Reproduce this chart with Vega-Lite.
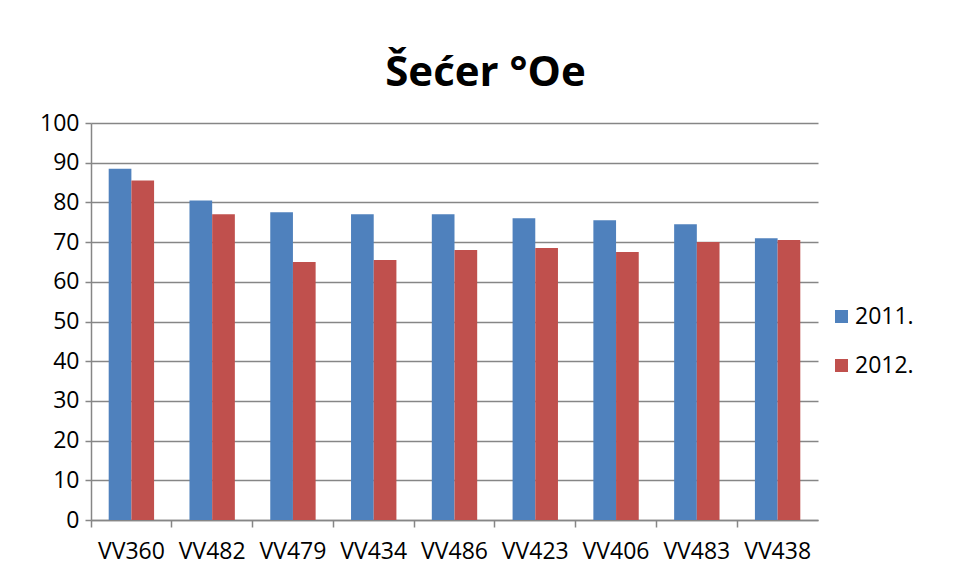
{
  "$schema": "https://vega.github.io/schema/vega-lite/v6.json",
  "width": 727,
  "height": 397,
  "autosize": {"type": "none"},
  "padding": {"left": 91, "top": 123, "right": 139, "bottom": 59},
  "background": "white",
  "config": {
    "font": "Open Sans",
    "view": {"stroke": null}
  },
  "title": {
    "text": "Šećer °Oe",
    "font": "Open Sans",
    "fontSize": 42,
    "fontWeight": "bold",
    "color": "black",
    "baseline": "alphabetic",
    "offset": 37,
    "dx": 31,
    "dy": 53,
    "anchor": "middle"
  },
  "data": {
    "values": [
      {"cat": "VV360", "year": "2011.", "value": 88.5},
      {"cat": "VV360", "year": "2012.", "value": 85.5},
      {"cat": "VV482", "year": "2011.", "value": 80.5},
      {"cat": "VV482", "year": "2012.", "value": 77},
      {"cat": "VV479", "year": "2011.", "value": 77.5},
      {"cat": "VV479", "year": "2012.", "value": 65},
      {"cat": "VV434", "year": "2011.", "value": 77},
      {"cat": "VV434", "year": "2012.", "value": 65.5},
      {"cat": "VV486", "year": "2011.", "value": 77},
      {"cat": "VV486", "year": "2012.", "value": 68},
      {"cat": "VV423", "year": "2011.", "value": 76},
      {"cat": "VV423", "year": "2012.", "value": 68.5},
      {"cat": "VV406", "year": "2011.", "value": 75.5},
      {"cat": "VV406", "year": "2012.", "value": 67.5},
      {"cat": "VV483", "year": "2011.", "value": 74.5},
      {"cat": "VV483", "year": "2012.", "value": 70},
      {"cat": "VV438", "year": "2011.", "value": 71},
      {"cat": "VV438", "year": "2012.", "value": 70.5}
    ]
  },
  "mark": {"type": "bar"},
  "encoding": {
    "x": {
      "field": "cat",
      "type": "nominal",
      "sort": null,
      "scale": {"paddingInner": 0, "paddingOuter": 0},
      "axis": {
        "title": null,
        "labelAngle": 0,
        "labelFontSize": 23,
        "labelColor": "black",
        "labelPadding": 13,
        "bandPosition": 0,
        "tickSize": 7,
        "tickColor": "#868686",
        "tickWidth": 1.5,
        "domainColor": "#868686",
        "domainWidth": 1.5,
        "grid": false
      }
    },
    "xOffset": {
      "field": "year",
      "type": "nominal",
      "scale": {"paddingInner": 0, "paddingOuter": 0.78}
    },
    "y": {
      "field": "value",
      "type": "quantitative",
      "scale": {"domain": [0, 100], "nice": false},
      "axis": {
        "title": null,
        "values": [0, 10, 20, 30, 40, 50, 60, 70, 80, 90, 100],
        "labelFontSize": 23,
        "labelColor": "black",
        "labelPadding": 6,
        "tickSize": 6,
        "tickColor": "#868686",
        "tickWidth": 1.5,
        "domainColor": "#868686",
        "domainWidth": 1.5,
        "grid": true,
        "gridColor": "#868686",
        "gridWidth": 1.5
      }
    },
    "color": {
      "field": "year",
      "type": "nominal",
      "scale": {"domain": ["2011.", "2012."], "range": ["#4F81BD", "#C0504D"]},
      "legend": {
        "title": null,
        "orient": "none",
        "legendX": 739,
        "legendY": 182,
        "symbolType": "square",
        "symbolSize": 169,
        "symbolStrokeWidth": 0,
        "labelFontSize": 23,
        "labelColor": "black",
        "labelOffset": 2,
        "rowPadding": 25
      }
    }
  }
}
